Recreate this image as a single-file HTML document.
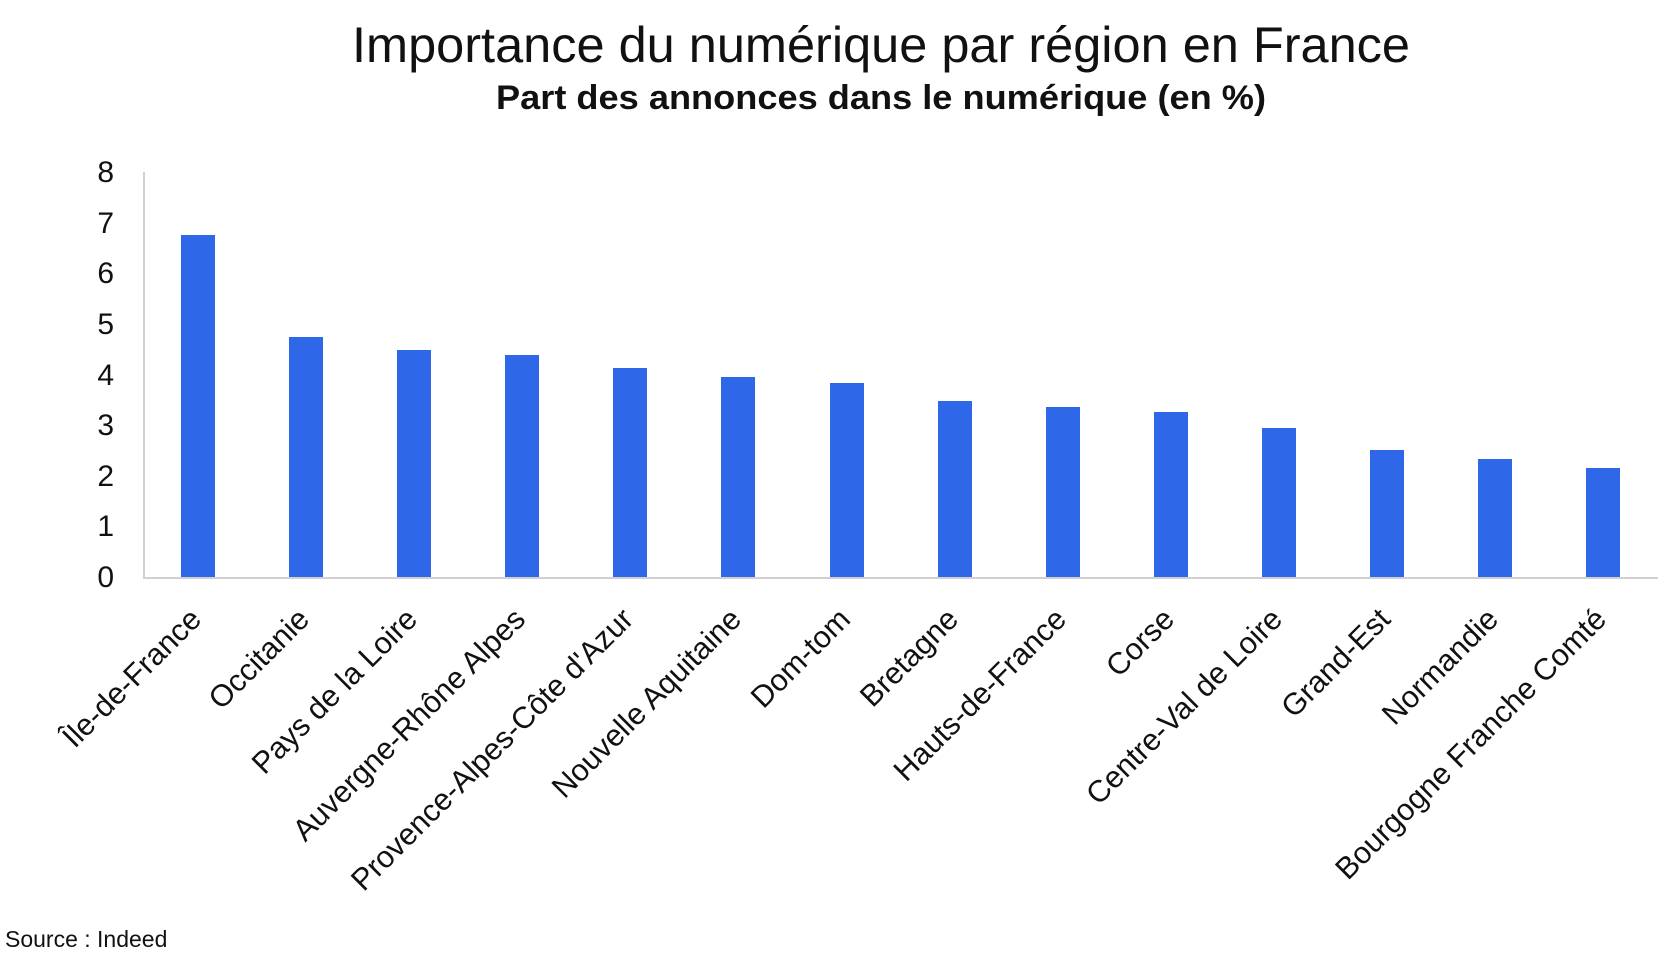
<!DOCTYPE html>
<html><head><meta charset="utf-8"><style>
html,body{margin:0;padding:0;background:#fff;}
svg{display:block;}
text{font-family:"Liberation Sans",Arial,sans-serif;fill:#111;}
</style></head><body>
<svg width="1672" height="958" viewBox="0 0 1672 958" xmlns="http://www.w3.org/2000/svg">
<text x="881" y="62" font-size="50" text-anchor="middle" textLength="1058" lengthAdjust="spacingAndGlyphs">Importance du numérique par région en France</text>
<text x="881" y="109" font-size="34" font-weight="bold" text-anchor="middle" textLength="770" lengthAdjust="spacingAndGlyphs">Part des annonces dans le numérique (en %)</text>
<g font-size="30" text-anchor="end">
<text x="114" y="182">8</text>
<text x="114" y="233">7</text>
<text x="114" y="283">6</text>
<text x="114" y="334">5</text>
<text x="114" y="385">4</text>
<text x="114" y="435">3</text>
<text x="114" y="486">2</text>
<text x="114" y="536">1</text>
<text x="114" y="587">0</text>
</g>
<line x1="144" y1="172" x2="144" y2="578" stroke="#d0d0d0" stroke-width="2"/>
<line x1="143" y1="578" x2="1658" y2="578" stroke="#d0d0d0" stroke-width="2"/>
<g fill="#2e67e8">
<rect x="181" y="235" width="34" height="342"/>
<rect x="289" y="337" width="34" height="240"/>
<rect x="397" y="350" width="34" height="227"/>
<rect x="505" y="355" width="34" height="222"/>
<rect x="613" y="368" width="34" height="209"/>
<rect x="721" y="377" width="34" height="200"/>
<rect x="830" y="383" width="34" height="194"/>
<rect x="938" y="401" width="34" height="176"/>
<rect x="1046" y="407" width="34" height="170"/>
<rect x="1154" y="412" width="34" height="165"/>
<rect x="1262" y="428" width="34" height="149"/>
<rect x="1370" y="450" width="34" height="127"/>
<rect x="1478" y="459" width="34" height="118"/>
<rect x="1586" y="468" width="34" height="109"/>
</g>
<g font-size="30.5" text-anchor="end">
<text transform="translate(203,621) rotate(-45)">Île-de-France</text>
<text transform="translate(311,621) rotate(-45)">Occitanie</text>
<text transform="translate(419,621) rotate(-45)">Pays de la Loire</text>
<text transform="translate(527,621) rotate(-45)">Auvergne-Rhône Alpes</text>
<text transform="translate(635,621) rotate(-45)">Provence-Alpes-Côte d'Azur</text>
<text transform="translate(743,621) rotate(-45)">Nouvelle Aquitaine</text>
<text transform="translate(852,621) rotate(-45)">Dom-tom</text>
<text transform="translate(960,621) rotate(-45)">Bretagne</text>
<text transform="translate(1068,621) rotate(-45)">Hauts-de-France</text>
<text transform="translate(1176,621) rotate(-45)">Corse</text>
<text transform="translate(1284,621) rotate(-45)">Centre-Val de Loire</text>
<text transform="translate(1392,621) rotate(-45)">Grand-Est</text>
<text transform="translate(1500,621) rotate(-45)">Normandie</text>
<text transform="translate(1608,621) rotate(-45)">Bourgogne Franche Comté</text>
</g>
<text x="5" y="947" font-size="23">Source : Indeed</text>
</svg>
</body></html>
